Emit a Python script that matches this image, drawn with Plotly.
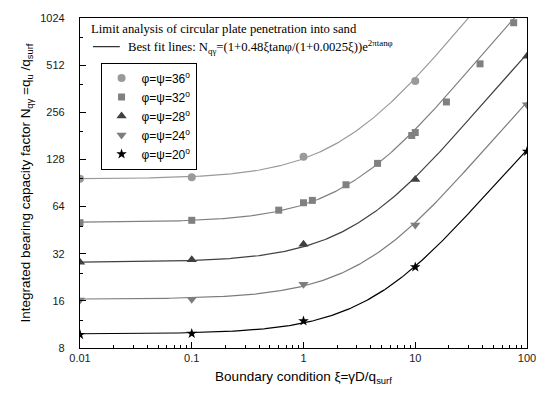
import numpy as np
import plotly.graph_objects as go

# Friction / dilation angles (degrees) of each series
phi_deg = [36, 32, 28, 24, 20]

# Limit-analysis results: boundary condition xi and bearing capacity factor
xi_36 = [0.01, 0.1, 1, 10]
n_36 = [96.3, 98.5, 133, 406]

xi_32 = [0.01, 0.1, 0.6, 1.0, 1.2, 2.4, 4.6, 9.3, 10, 19, 38, 76]
n_32 = [50.5, 52.3, 60.7, 67.7, 70.1, 88.2, 120.8, 182, 190, 298, 522, 955]

xi_28 = [0.01, 0.1, 1, 10, 100]
n_28 = [28.2, 29.3, 36.8, 95.4, 584]

xi_24 = [0.01, 0.1, 1, 10, 100]
n_24 = [16.2, 16.4, 20.4, 48.8, 286]

xi_20 = [0.01, 0.1, 1, 10, 100]
n_20 = [9.74, 9.9, 11.9, 26.3, 144]

# Best-fit coefficients: N = (1 + a*xi*tan(phi)/(1 + b*xi)) * exp(2*pi*tan(phi))
fit_a = 0.48
fit_b = 0.0025

# Axis ticks
x_ticks = [0.01, 0.1, 1, 10, 100]
x_tick_text = ["0.01", "0.1", "1", "10", "100"]
y_ticks = [8, 16, 32, 64, 128, 256, 512, 1024]
y_tick_text = ["8", "16", "32", "64", "128", "256", "512", "1024"]

series = [
    (xi_36, n_36, "circle", "#9a9a9a", "#9a9a9a", 8),
    (xi_32, n_32, "square", "#808080", "#808080", 7),
    (xi_28, n_28, "triangle-up", "#404040", "#404040", 9),
    (xi_24, n_24, "triangle-down", "#7d7d7d", "#7d7d7d", 9),
    (xi_20, n_20, "star", "#000000", "#000000", 8),
]

fig = go.Figure()

xi_fit = np.logspace(-2, 2, 300)
for phi, (xs, ys, sym, mcol, lcol, msize) in zip(phi_deg, series):
    t = np.tan(np.radians(phi))
    n_fit = (1 + fit_a * xi_fit * t / (1 + fit_b * xi_fit)) * np.exp(2 * np.pi * t)
    fig.add_trace(go.Scatter(
        x=xi_fit, y=n_fit, mode="lines",
        line=dict(color=lcol, width=1.2),
        showlegend=False, hoverinfo="skip",
    ))

for phi, (xs, ys, sym, mcol, lcol, msize) in zip(phi_deg, series):
    fig.add_trace(go.Scatter(
        x=xs, y=ys, mode="markers",
        marker=dict(symbol=sym, color=mcol, size=msize, line=dict(width=0)),
        name=f"\u03c6=\u03c8={phi}<sup>o</sup>",
    ))

# minor ticks
x_minor = [m * 10.0 ** k for k in range(-2, 2) for m in range(2, 10)]
y_minor = [1.5 * v for v in y_ticks[:-1]]

axis_font = dict(family="Liberation Sans, Arial", size=11, color="#1a1a1a")

fig.update_layout(
    width=548, height=399,
    margin=dict(l=80, r=18, t=14, b=51),
    paper_bgcolor="white", plot_bgcolor="white",
    font=dict(family="Liberation Sans, Arial", size=12, color="#000"),
    xaxis=dict(
        type="log", range=[-2, 2],
        tickmode="array", tickvals=x_ticks, ticktext=x_tick_text,
        ticks="inside", ticklen=6, tickwidth=1, tickcolor="#000",
        showline=True, linecolor="#000", linewidth=1.2, mirror=True,
        showgrid=False, zeroline=False, tickfont=axis_font,
        minor=dict(tickmode="array", tickvals=x_minor, ticks="inside",
                   ticklen=3, tickwidth=1, tickcolor="#000", showgrid=False),
        title=dict(text="Boundary condition \u03be=\u03b3D/q<sub>surf</sub>",
                   font=dict(size=13.5), standoff=8),
    ),
    yaxis=dict(
        type="log", range=[np.log10(8), np.log10(1024)],
        tickmode="array", tickvals=y_ticks, ticktext=y_tick_text,
        ticks="inside", ticklen=6, tickwidth=1, tickcolor="#000",
        showline=True, linecolor="#000", linewidth=1.2, mirror=True,
        showgrid=False, zeroline=False, tickfont=axis_font,
        ticklabelstandoff=12,
        minor=dict(tickmode="array", tickvals=y_minor, ticks="inside",
                   ticklen=3, tickwidth=1, tickcolor="#000", showgrid=False),
        title=dict(text="Integrated bearing capacity factor N<sub>q\u03b3</sub> =q<sub>u</sub> /q<sub>surf</sub>",
                   font=dict(size=13.5), standoff=6),
    ),
    legend=dict(
        x=0.046, y=0.865, xanchor="left", yanchor="top",
        bordercolor="#000", borderwidth=1, bgcolor="white",
        font=dict(family="Liberation Sans, Arial", size=12),
        tracegroupgap=0,
    ),
)

serif = dict(family="Liberation Serif, Times New Roman", size=12.7, color="#000")
fig.add_annotation(
    xref="paper", yref="paper", x=0.021, y=0.967, xanchor="left", yanchor="middle",
    text="Limit analysis of circular plate penetration into sand",
    showarrow=False, font=serif,
)
fig.add_annotation(
    xref="paper", yref="paper", x=0.104, y=0.913, xanchor="left", yanchor="middle",
    text="Best fit lines: N<sub>q\u03b3</sub>=(1+0.48\u03betan\u03c6/(1+0.0025\u03be))e<sup>2\u03c0tan\u03c6</sup>",
    showarrow=False, font=serif,
)
fig.add_shape(type="line", xref="paper", yref="paper",
              x0=0.029, x1=0.089, y0=0.913, y1=0.913,
              line=dict(color="#000", width=1))

fig.write_html("out.html")
